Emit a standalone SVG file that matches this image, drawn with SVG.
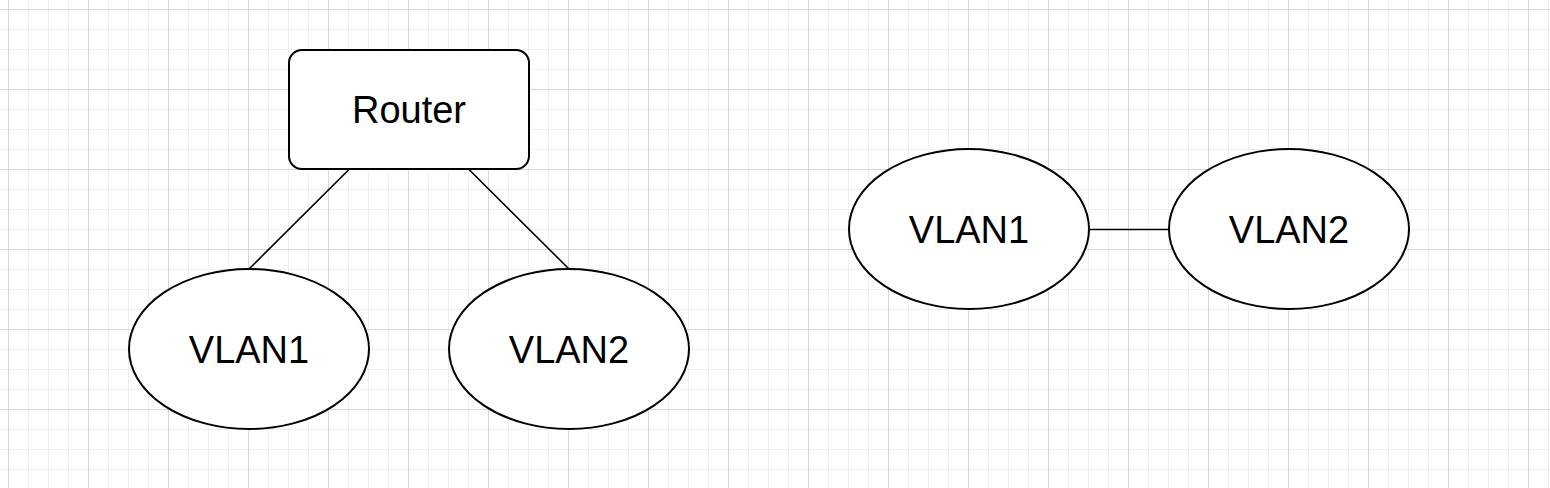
<svg xmlns="http://www.w3.org/2000/svg" width="1550" height="488" viewBox="0 0 1550 488">
<defs>
<pattern id="minor" x="8" y="9" width="20" height="20" patternUnits="userSpaceOnUse">
<path d="M0 0H20M0 0V20" fill="none" stroke="#f0f0f0" stroke-width="2"/>
</pattern>
<pattern id="major" x="8" y="9" width="80" height="80" patternUnits="userSpaceOnUse">
<path d="M0 0H80M0 0V80" fill="none" stroke="#d0d0d0" stroke-width="1.5"/>
</pattern>
</defs>
<style>
.shape{fill:#ffffff;stroke:#000000;stroke-width:2}
.lbl{font-family:"Liberation Sans",Arial,sans-serif;font-size:38px;fill:#000000;text-anchor:middle}
.edge{stroke:#000000;stroke-width:1.6;fill:none}
</style>
<rect width="1550" height="488" fill="#ffffff"/>
<rect width="1550" height="488" fill="url(#minor)"/>
<rect width="1550" height="488" fill="url(#major)"/>
<g id="connectors">
<line class="edge" x1="349" y1="169.5" x2="249" y2="269"/>
<line class="edge" x1="469" y1="169.5" x2="569" y2="269"/>
<line class="edge" x1="1089" y1="229.5" x2="1169" y2="229.5"/>
</g>
<g id="router">
<rect class="shape" x="289" y="50" width="240" height="119" rx="13" ry="13"/>
<text class="lbl" x="409" y="123">Router</text>
</g>
<g id="vlan1-left">
<ellipse class="shape" cx="249" cy="349" rx="120" ry="80"/>
<text class="lbl" x="249" y="363">VLAN1</text>
</g>
<g id="vlan2-left">
<ellipse class="shape" cx="569" cy="349" rx="120" ry="80"/>
<text class="lbl" x="569" y="363">VLAN2</text>
</g>
<g id="vlan1-right">
<ellipse class="shape" cx="969" cy="229" rx="120" ry="80"/>
<text class="lbl" x="969" y="243">VLAN1</text>
</g>
<g id="vlan2-right">
<ellipse class="shape" cx="1289" cy="229" rx="120" ry="80"/>
<text class="lbl" x="1289" y="243">VLAN2</text>
</g>
</svg>
